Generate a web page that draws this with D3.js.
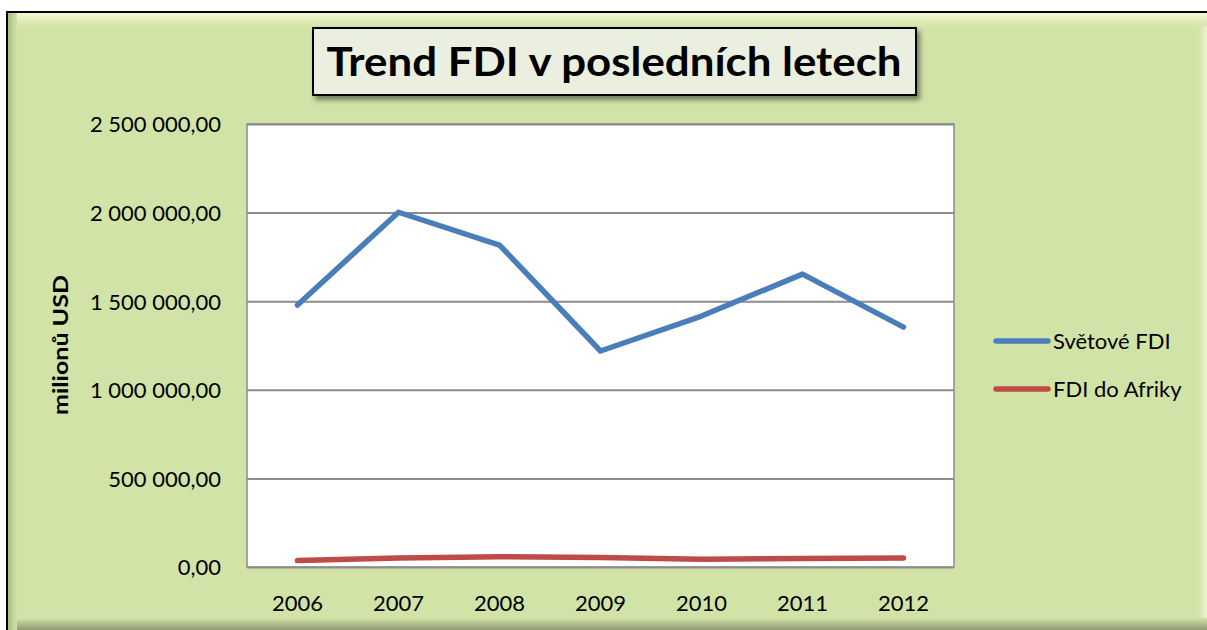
<!DOCTYPE html>
<html><head><meta charset="utf-8">
<script src="https://cdn.jsdelivr.net/npm/d3@7"></script>
<style>body{margin:0;background:#fff}svg{display:block}</style>
</head><body>
<script>
const years = ["2006","2007","2008","2009","2010","2011","2012"];
const worldFDI = [1478000, 2002000, 1817000, 1219000, 1416000, 1653000, 1354000];
const africaFDI = [36000, 51000, 58000, 53000, 44000, 48000, 51000];
const yTicks = [0, 500000, 1000000, 1500000, 2000000, 2500000];
const seriesNames = ["Světové FDI", "FDI do Afriky"];
const seriesColors = ["#4a7ebb", "#be4b48"];
const titleText = "Trend FDI v posledních letech";
const yTitle = "milionů USD";

const W = 1207, H = 630;
const svg = d3.select("body").append("svg").attr("width", W).attr("height", H);
const defs = svg.append("defs");
function grad(id, x2, y2, c0, c1){
  const g = defs.append("linearGradient").attr("id",id).attr("x1",0).attr("y1",0).attr("x2",x2).attr("y2",y2);
  g.append("stop").attr("offset",0).attr("stop-color",c0);
  g.append("stop").attr("offset",1).attr("stop-color",c1);
}
grad("bevTop",0,1,"#f6f8d2","#d1e3a6");
grad("bevBot",0,1,"#d1e3a6","#8f9a72");
grad("bevLeft",1,0,"#a9b583","#d1e3a6");
grad("bevRight",1,0,"#d1e3a6","#eef3d0");
const sh = defs.append("filter").attr("id","shadow").attr("x","-10%").attr("y","-20%").attr("width","130%").attr("height","160%");
sh.append("feDropShadow").attr("dx",3).attr("dy",4).attr("stdDeviation",2.5).attr("flood-color","#000").attr("flood-opacity",0.45);

// chart background
const bx = 7, by = 12, bw = 1210, bh = 620;
svg.append("rect").attr("x",bx).attr("y",by).attr("width",bw).attr("height",bh).attr("fill","#d1e3a6");
svg.append("rect").attr("x",bx).attr("y",by).attr("width",bw).attr("height",16).attr("fill","url(#bevTop)");
svg.append("rect").attr("x",bx).attr("y",618).attr("width",bw).attr("height",12).attr("fill","url(#bevBot)");
svg.append("rect").attr("x",bx).attr("y",by).attr("width",10).attr("height",bh).attr("fill","url(#bevLeft)");
svg.append("rect").attr("x",1198).attr("y",by+14).attr("width",9).attr("height",592).attr("fill","url(#bevRight)");
svg.append("rect").attr("x",bx).attr("y",by).attr("width",bw).attr("height",bh).attr("fill","none").attr("stroke","#000").attr("stroke-width",2);

// plot area
const pl = 247, pt = 124, pr = 954, pb = 567;
const x = d3.scaleBand().domain(years).range([pl, pr]);
const y = d3.scaleLinear().domain([0, 2500000]).range([pb, pt]);
svg.append("rect").attr("x",pl).attr("y",pt).attr("width",pr-pl).attr("height",pb-pt).attr("fill","#fff").attr("stroke","#8c8c8c").attr("stroke-width",1.5);

const fmt = v => d3.format(",.2f")(v).replace(/,/g," ").replace(".", ",");
const yAxis = d3.axisLeft(y).tickValues(yTicks).tickSize(-(pr-pl)).tickFormat(fmt);
const ga = svg.append("g").attr("transform",`translate(${pl},0)`).call(yAxis);
ga.select(".domain").remove();
ga.selectAll(".tick line").attr("stroke","#8c8c8c").attr("stroke-width",2);
ga.selectAll(".tick text").attr("x",-26).attr("dy","0.36em").attr("font-family","Lato").attr("font-size",22).attr("fill","#000");

const xAxis = d3.axisBottom(x).tickSize(0);
const gx = svg.append("g").attr("transform",`translate(0,${pb})`).call(xAxis);
gx.select(".domain").remove();
gx.selectAll(".tick text").attr("y",44).attr("dy",0).attr("font-family","Lato").attr("font-size",22).attr("fill","#000");

svg.append("text").attr("transform",`translate(68,345) rotate(-90)`).attr("text-anchor","middle")
  .attr("font-family","Lato").attr("font-weight","bold").attr("font-size",21)
  .attr("textLength",140).attr("lengthAdjust","spacingAndGlyphs").text(yTitle);

const line = d3.line().x((d,i)=>x(years[i])+x.bandwidth()/2).y(d=>y(d));
[worldFDI, africaFDI].forEach((s,i)=>{
  svg.append("path").attr("d",line(s)).attr("fill","none").attr("stroke",seriesColors[i])
    .attr("stroke-width",5.5).attr("stroke-linecap","round").attr("stroke-linejoin","round");
});

// legend
seriesNames.forEach((n,i)=>{
  const ly = 341 + i*48;
  svg.append("line").attr("x1",996).attr("x2",1048).attr("y1",ly).attr("y2",ly)
    .attr("stroke",seriesColors[i]).attr("stroke-width",5.5).attr("stroke-linecap","round");
  svg.append("text").attr("x",1053).attr("y",ly).attr("dy","0.36em").attr("font-family","Lato")
    .attr("font-size",22).text(n);
});

// title
const tb = svg.append("g").attr("filter","url(#shadow)");
tb.append("rect").attr("x",313).attr("y",28).attr("width",603).attr("height",67).attr("fill","#ebefdf").attr("stroke","#000").attr("stroke-width",2);
svg.append("text").attr("x",614).attr("y",62).attr("dy","0.35em").attr("text-anchor","middle")
  .attr("font-family","Lato").attr("font-weight","bold").attr("font-size",40).attr("textLength",575).attr("lengthAdjust","spacingAndGlyphs").text(titleText);
</script>
</body></html>
